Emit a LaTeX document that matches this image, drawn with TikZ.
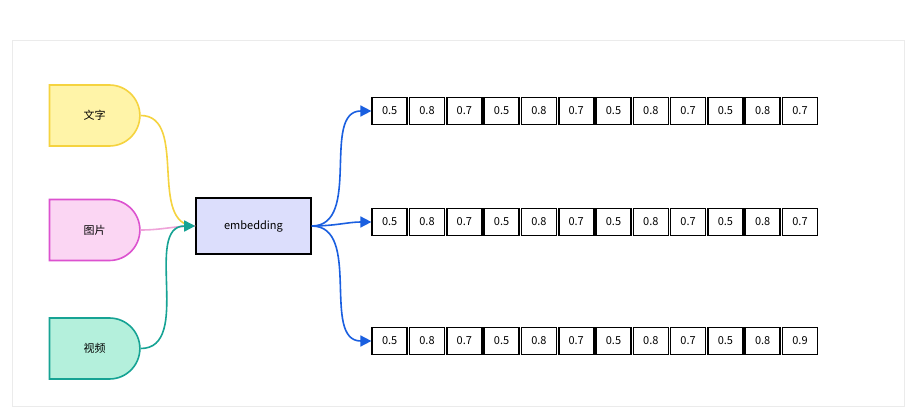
\documentclass[tikz,border=0pt]{standalone}
\usepackage{fontspec}
\setmainfont{Noto Sans CJK SC}
\usetikzlibrary{shapes.misc,arrows.meta,positioning}

\definecolor{textfill}{HTML}{FFF4A8}
\definecolor{textline}{HTML}{F5D33F}
\definecolor{picfill}{HTML}{FBD6F3}
\definecolor{picline}{HTML}{DC52CF}
\definecolor{piclink}{HTML}{EFA3D9}
\definecolor{vidfill}{HTML}{B4F0DC}
\definecolor{vidline}{HTML}{16A394}
\definecolor{embfill}{HTML}{DCDEFC}
\definecolor{vecline}{HTML}{1A5FE0}

\begin{document}
\begin{tikzpicture}[
  x=1pt, y=-1pt,
  source/.style={rounded rectangle, rounded rectangle west arc=none, line width=1.6pt,
    minimum width=97pt, minimum height=61pt, font=\fontsize{11}{13}\selectfont},
  embed/.style={draw, line width=1.6pt, fill=embfill, minimum width=115pt, minimum height=56pt,
    font=\fontsize{11}{13}\selectfont},
  cell/.style={draw, line width=1.6pt, fill=white, minimum width=35pt, minimum height=27pt,
    inner sep=0pt, font=\fontsize{11}{13}\selectfont},
  link/.style={line width=1.6pt},
  vec/.style={link, draw=vecline, -{Triangle[length=11pt,width=11pt]}}
  ]
\useasboundingbox (0,0) rectangle (913,414);
\draw[draw=black!8, fill=white] (12,40) rectangle (904,406);

\node[source, draw=textline, fill=textfill] (text) at (94.5,115.5) {文字};
\node[source, draw=picline, fill=picfill] (pic) at (94.5,230) {图片};
\node[source, draw=vidline, fill=vidfill] (vid) at (94.5,348.5) {视频};
\node[embed] (emb) at (253.5,226) {embedding};

% vectors
\foreach \row/\y/\last in {a/111/0.7, b/222/0.7, c/341/0.9}{
  \foreach \v [count=\i] in {0.5,0.8,0.7,0.5,0.8,0.7,0.5,0.8,0.7,0.5,0.8,\last}{
    \node[cell] (\row\i) at (371+18.7+37.3*\i-37.3,\y) {\v};
  }
  \draw[vec] (emb.east) to[out=0, in=180] (\row1.west);
}

\draw[link, draw=textline] (text.east) to[out=0, in=180] (emb.west);
\draw[link, draw=piclink] (pic.east) to[out=0, in=180] (emb.west);
\draw[link, draw=vidline, -{Triangle[length=11pt,width=11pt]}] (vid.east) to[out=0, in=180] (emb.west);
\end{tikzpicture}
\end{document}
